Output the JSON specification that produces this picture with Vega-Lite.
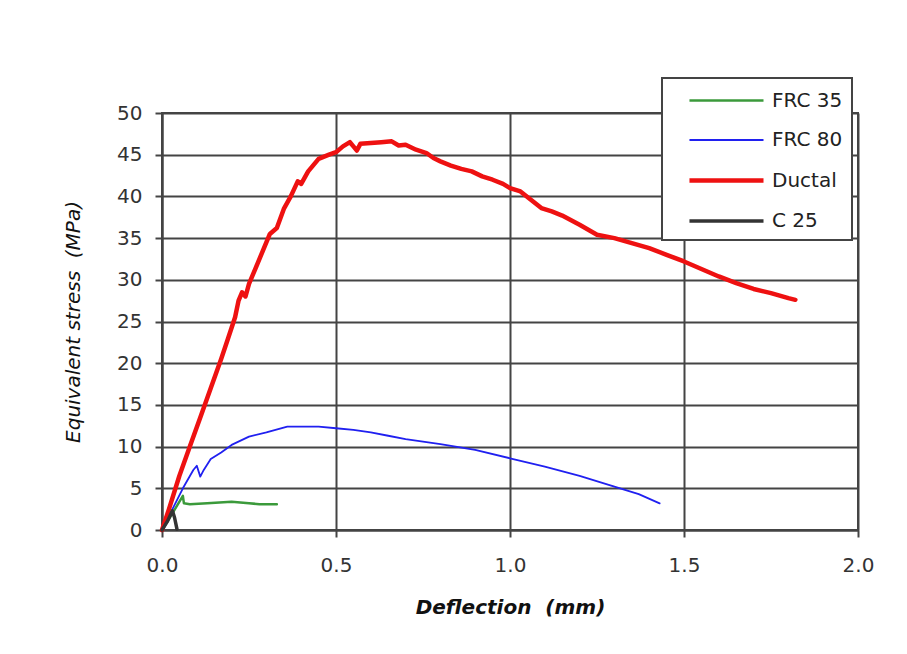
{
  "$schema": "https://vega.github.io/schema/vega-lite/v6.json",
  "width": 696,
  "height": 417,
  "autosize": {"type": "none"},
  "padding": {"left": 162, "top": 113, "right": 49, "bottom": 124},
  "background": "white",
  "data": {"values": [
    {"series": "FRC 35", "d": 0, "s": 0},
    {"series": "FRC 35", "d": 0.03, "s": 2},
    {"series": "FRC 35", "d": 0.06, "s": 4.1},
    {"series": "FRC 35", "d": 0.063, "s": 3.2},
    {"series": "FRC 35", "d": 0.08, "s": 3.1},
    {"series": "FRC 35", "d": 0.13, "s": 3.2},
    {"series": "FRC 35", "d": 0.2, "s": 3.4},
    {"series": "FRC 35", "d": 0.25, "s": 3.2},
    {"series": "FRC 35", "d": 0.28, "s": 3.1},
    {"series": "FRC 35", "d": 0.33, "s": 3.1},
    {"series": "FRC 80", "d": 0, "s": 0},
    {"series": "FRC 80", "d": 0.03, "s": 2.5},
    {"series": "FRC 80", "d": 0.06, "s": 5},
    {"series": "FRC 80", "d": 0.09, "s": 7.2},
    {"series": "FRC 80", "d": 0.1, "s": 7.7},
    {"series": "FRC 80", "d": 0.11, "s": 6.4},
    {"series": "FRC 80", "d": 0.12, "s": 7.2},
    {"series": "FRC 80", "d": 0.14, "s": 8.5},
    {"series": "FRC 80", "d": 0.17, "s": 9.3},
    {"series": "FRC 80", "d": 0.2, "s": 10.2},
    {"series": "FRC 80", "d": 0.25, "s": 11.2},
    {"series": "FRC 80", "d": 0.3, "s": 11.7},
    {"series": "FRC 80", "d": 0.36, "s": 12.4},
    {"series": "FRC 80", "d": 0.45, "s": 12.4},
    {"series": "FRC 80", "d": 0.5, "s": 12.2},
    {"series": "FRC 80", "d": 0.55, "s": 12},
    {"series": "FRC 80", "d": 0.6, "s": 11.7},
    {"series": "FRC 80", "d": 0.65, "s": 11.3},
    {"series": "FRC 80", "d": 0.7, "s": 10.9},
    {"series": "FRC 80", "d": 0.8, "s": 10.3},
    {"series": "FRC 80", "d": 0.9, "s": 9.6},
    {"series": "FRC 80", "d": 1.0, "s": 8.6},
    {"series": "FRC 80", "d": 1.1, "s": 7.6},
    {"series": "FRC 80", "d": 1.2, "s": 6.5},
    {"series": "FRC 80", "d": 1.3, "s": 5.2},
    {"series": "FRC 80", "d": 1.37, "s": 4.3},
    {"series": "FRC 80", "d": 1.43, "s": 3.2},
    {"series": "Ductal", "d": 0, "s": 0},
    {"series": "Ductal", "d": 0.02, "s": 2.5},
    {"series": "Ductal", "d": 0.05, "s": 6.5},
    {"series": "Ductal", "d": 0.08, "s": 10},
    {"series": "Ductal", "d": 0.11, "s": 13.5},
    {"series": "Ductal", "d": 0.14, "s": 17},
    {"series": "Ductal", "d": 0.17, "s": 20.5},
    {"series": "Ductal", "d": 0.19, "s": 23},
    {"series": "Ductal", "d": 0.21, "s": 25.5},
    {"series": "Ductal", "d": 0.22, "s": 27.5},
    {"series": "Ductal", "d": 0.23, "s": 28.5},
    {"series": "Ductal", "d": 0.24, "s": 28},
    {"series": "Ductal", "d": 0.25, "s": 29.5},
    {"series": "Ductal", "d": 0.27, "s": 31.5},
    {"series": "Ductal", "d": 0.29, "s": 33.5},
    {"series": "Ductal", "d": 0.31, "s": 35.5},
    {"series": "Ductal", "d": 0.33, "s": 36.2},
    {"series": "Ductal", "d": 0.35, "s": 38.5},
    {"series": "Ductal", "d": 0.37, "s": 40},
    {"series": "Ductal", "d": 0.39, "s": 41.8},
    {"series": "Ductal", "d": 0.4, "s": 41.5},
    {"series": "Ductal", "d": 0.42, "s": 43},
    {"series": "Ductal", "d": 0.45, "s": 44.5},
    {"series": "Ductal", "d": 0.48, "s": 45},
    {"series": "Ductal", "d": 0.5, "s": 45.3},
    {"series": "Ductal", "d": 0.52, "s": 46},
    {"series": "Ductal", "d": 0.54, "s": 46.5},
    {"series": "Ductal", "d": 0.55, "s": 46},
    {"series": "Ductal", "d": 0.56, "s": 45.5},
    {"series": "Ductal", "d": 0.57, "s": 46.3},
    {"series": "Ductal", "d": 0.6, "s": 46.4},
    {"series": "Ductal", "d": 0.63, "s": 46.5},
    {"series": "Ductal", "d": 0.66, "s": 46.6},
    {"series": "Ductal", "d": 0.68, "s": 46.1},
    {"series": "Ductal", "d": 0.7, "s": 46.2},
    {"series": "Ductal", "d": 0.73, "s": 45.6},
    {"series": "Ductal", "d": 0.76, "s": 45.2},
    {"series": "Ductal", "d": 0.78, "s": 44.6},
    {"series": "Ductal", "d": 0.8, "s": 44.2},
    {"series": "Ductal", "d": 0.83, "s": 43.7},
    {"series": "Ductal", "d": 0.86, "s": 43.3},
    {"series": "Ductal", "d": 0.89, "s": 43},
    {"series": "Ductal", "d": 0.92, "s": 42.4},
    {"series": "Ductal", "d": 0.95, "s": 42},
    {"series": "Ductal", "d": 0.98, "s": 41.5},
    {"series": "Ductal", "d": 1.0, "s": 41},
    {"series": "Ductal", "d": 1.03, "s": 40.6},
    {"series": "Ductal", "d": 1.06, "s": 39.6},
    {"series": "Ductal", "d": 1.09, "s": 38.6},
    {"series": "Ductal", "d": 1.12, "s": 38.2},
    {"series": "Ductal", "d": 1.15, "s": 37.7},
    {"series": "Ductal", "d": 1.2, "s": 36.6},
    {"series": "Ductal", "d": 1.25, "s": 35.4},
    {"series": "Ductal", "d": 1.3, "s": 35},
    {"series": "Ductal", "d": 1.35, "s": 34.4},
    {"series": "Ductal", "d": 1.4, "s": 33.8},
    {"series": "Ductal", "d": 1.45, "s": 33},
    {"series": "Ductal", "d": 1.5, "s": 32.2},
    {"series": "Ductal", "d": 1.55, "s": 31.3},
    {"series": "Ductal", "d": 1.6, "s": 30.4},
    {"series": "Ductal", "d": 1.65, "s": 29.6},
    {"series": "Ductal", "d": 1.7, "s": 28.9},
    {"series": "Ductal", "d": 1.75, "s": 28.4},
    {"series": "Ductal", "d": 1.8, "s": 27.8},
    {"series": "Ductal", "d": 1.82, "s": 27.6},
    {"series": "C 25", "d": 0, "s": 0},
    {"series": "C 25", "d": 0.015, "s": 1},
    {"series": "C 25", "d": 0.03, "s": 2.3},
    {"series": "C 25", "d": 0.036, "s": 1.5},
    {"series": "C 25", "d": 0.043, "s": 0.1}
  ]},
  "mark": {"type": "line", "strokeJoin": "round", "strokeCap": "round"},
  "encoding": {
    "x": {
      "field": "d", "type": "quantitative",
      "scale": {"domain": [0, 2]},
      "axis": {"values": [0, 0.5, 1, 1.5, 2], "format": ".1f", "title": "Deflection\u00a0\u00a0(mm)", "labelFlush": false,
        "titleFontStyle": "italic", "titleFontWeight": "bold", "titleFontSize": 20, "titlePadding": 22, "labelPadding": 18}
    },
    "y": {
      "field": "s", "type": "quantitative",
      "scale": {"domain": [0, 50]},
      "axis": {"values": [0, 5, 10, 15, 20, 25, 30, 35, 40, 45, 50], "title": "Equivalent stress\u00a0\u00a0(MPa)", "labelFlush": false,
        "titleFontStyle": "italic", "titleFontWeight": "normal", "titleFontSize": 20, "titlePadding": 33, "labelPadding": 13}
    },
    "color": {
      "field": "series", "type": "ordinal",
      "scale": {"domain": ["FRC 35", "FRC 80", "Ductal", "C 25"], "range": ["#3b9a3b", "#2020f0", "#ee1111", "#333333"]},
      "legend": {"title": null, "orient": "none", "legendX": 500, "legendY": -35}
    },
    "strokeWidth": {
      "field": "series", "type": "ordinal",
      "scale": {"type": "ordinal", "domain": ["FRC 35", "FRC 80", "Ductal", "C 25"], "range": [2.5, 1.8, 4.5, 3.5]},
      "legend": {"title": null, "orient": "none", "legendX": 500, "legendY": -35}
    },
    "order": {"field": "d", "type": "quantitative"}
  },
  "config": {
    "font": "DejaVu Sans",
    "view": {"stroke": "#444", "strokeWidth": 2},
    "axis": {
      "grid": true, "gridColor": "#444", "gridWidth": 2, "gridOpacity": 1,
      "domainColor": "#444", "domainWidth": 2,
      "tickColor": "#444", "tickWidth": 2, "tickSize": 7,
      "labelFont": "DejaVu Sans", "labelFontSize": 20, "labelColor": "#333",
      "titleFont": "DejaVu Sans", "titleColor": "#111"
    },
    "legend": {
      "symbolType": "M0.33,0H6.5",
      "symbolSize": 576,
      "labelOffset": 72,
      "labelFont": "DejaVu Sans",
      "labelFontSize": 20,
      "labelColor": "#222",
      "padding": 9,
      "rowPadding": 16,
      "strokeColor": "#444",
      "strokeWidth": 2,
      "fillColor": "white"
    }
  }
}
